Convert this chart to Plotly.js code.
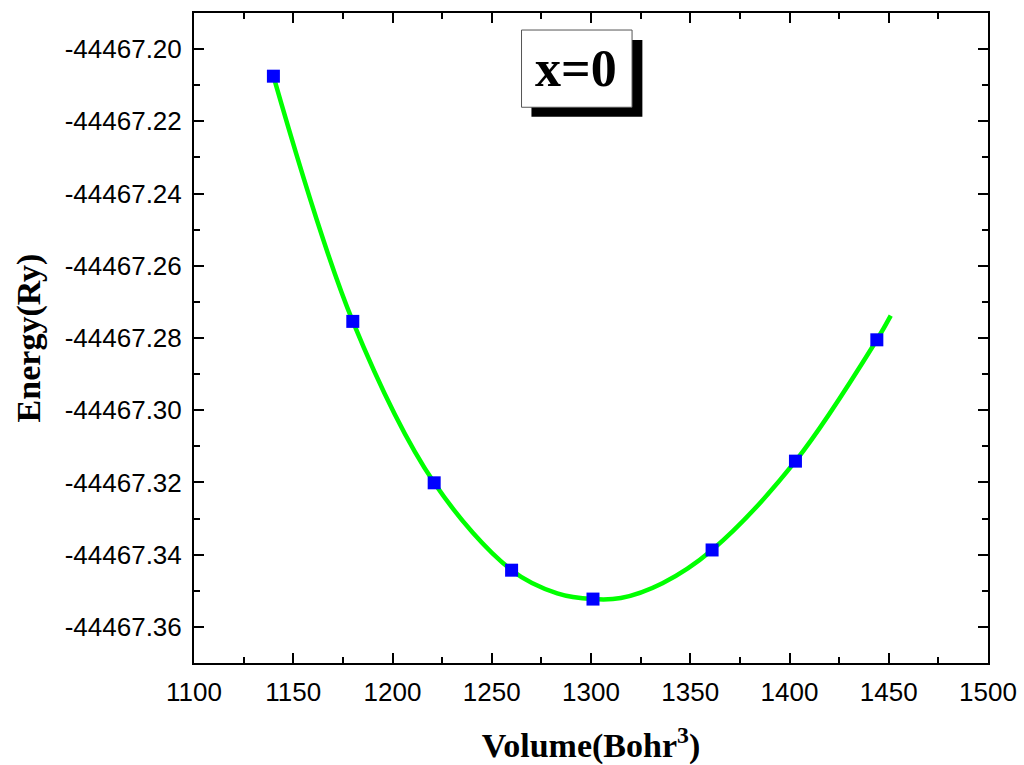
<!DOCTYPE html>
<html>
<head>
<meta charset="utf-8">
<script src="https://cdn.plot.ly/plotly-3.0.1.min.js"></script>
<style>html,body{margin:0;padding:0;background:#fff;}#chart{width:1024px;height:765px;}</style>
</head>
<body>
<div id="chart"></div>
<script>
// Calculated points (blue squares)
var volumes = [1140, 1180, 1221, 1260, 1301, 1361, 1403, 1444];
var energies = [-44467.2075, -44467.2754, -44467.3201, -44467.3443, -44467.3523, -44467.3387, -44467.3141, -44467.2805];

// Fitted curve (green)
var fitVolumes = [1140, 1180, 1221, 1260, 1283, 1301, 1315, 1336, 1361, 1403, 1444, 1451];
var fitEnergies = [-44467.2075, -44467.2754, -44467.3201, -44467.3443, -44467.3507, -44467.3523, -44467.3520, -44467.3479, -44467.3387, -44467.3141, -44467.2805, -44467.2738];

// Tick labels
var yTickVals = [-44467.36, -44467.34, -44467.32, -44467.30, -44467.28, -44467.26, -44467.24, -44467.22, -44467.20];
var yTickText = ["-44467.36", "-44467.34", "-44467.32", "-44467.30", "-44467.28", "-44467.26", "-44467.24", "-44467.22", "-44467.20"];
var xTickVals = [1100, 1150, 1200, 1250, 1300, 1350, 1400, 1450, 1500];
var xTickText = ["1100", "1150", "1200", "1250", "1300", "1350", "1400", "1450", "1500"];
var legendLabel = "x=0";

var traces = [
  {
    x: fitVolumes, y: fitEnergies, mode: 'lines', type: 'scatter',
    line: {color: '#00ff00', width: 4.5, shape: 'spline', smoothing: 1},
    hoverinfo: 'skip', showlegend: false
  },
  {
    x: volumes, y: energies, mode: 'markers', type: 'scatter',
    marker: {symbol: 'square', size: 13, color: '#0000ff', line: {width: 0}},
    showlegend: false
  }
];

var axisFont = {family: 'Liberation Sans, Arial, sans-serif', size: 26, color: '#000'};
var titleFont = {family: 'Liberation Serif, Times New Roman, serif', size: 34, color: '#000', weight: 'bold'};

var layout = {
  width: 1024, height: 765,
  margin: {l: 194, r: 36, t: 13, b: 102},
  paper_bgcolor: '#fff', plot_bgcolor: '#fff',
  showlegend: false,
  xaxis: {
    range: [1100, 1500],
    tickvals: xTickVals, ticktext: xTickText,
    ticks: 'inside', ticklen: 10, tickwidth: 2, tickcolor: '#000',
    minor: {dtick: 25, ticks: 'inside', ticklen: 6, tickwidth: 2, tickcolor: '#000', showgrid: false},
    showline: true, linewidth: 2, linecolor: '#000', mirror: 'ticks',
    showgrid: false, zeroline: false,
    tickfont: axisFont, ticklabelstandoff: 5,
    title: {text: 'Volume(Bohr<sup>3</sup>)', font: titleFont, standoff: 34}
  },
  yaxis: {
    range: [-44467.37, -44467.19],
    tickvals: yTickVals, ticktext: yTickText,
    ticks: 'inside', ticklen: 10, tickwidth: 2, tickcolor: '#000',
    minor: {dtick: 0.01, tick0: -44467.37, ticks: 'inside', ticklen: 6, tickwidth: 2, tickcolor: '#000', showgrid: false},
    showline: true, linewidth: 2, linecolor: '#000', mirror: 'ticks',
    showgrid: false, zeroline: false,
    tickfont: axisFont, ticklabelstandoff: 5,
    title: {text: 'Energy(Ry)', font: titleFont, standoff: 14}
  },
  shapes: [
    {type: 'rect', xref: 'paper', yref: 'paper', x0: 0.425, x1: 0.5647, y0: 0.8405, y1: 0.9585,
     fillcolor: '#000', line: {width: 0}, layer: 'above'},
    {type: 'rect', xref: 'paper', yref: 'paper', x0: 0.4125, x1: 0.5517, y0: 0.855, y1: 0.9738,
     fillcolor: '#fff', line: {color: '#555', width: 1}, layer: 'above'}
  ],
  annotations: [
    {xref: 'paper', yref: 'paper', x: 0.4805, y: 0.9144, text: legendLabel, showarrow: false,
     xanchor: 'center', yanchor: 'middle',
     font: {family: 'Liberation Serif, Times New Roman, serif', size: 52, color: '#000', weight: 'bold'}}
  ]
};

Plotly.newPlot('chart', traces, layout, {displayModeBar: false, staticPlot: true});
</script>
</body>
</html>
